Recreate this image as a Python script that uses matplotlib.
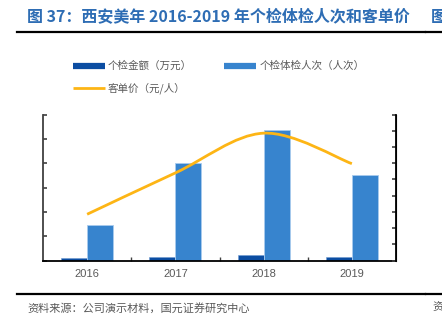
import matplotlib
matplotlib.use("Agg")
import matplotlib.pyplot as plt
from matplotlib.path import Path
from matplotlib.patches import PathPatch
from matplotlib.lines import Line2D
import numpy as np

plt.rcParams['font.family'] = ['Noto Sans CJK SC', 'DejaVu Sans']

years = ['2016', '2017', '2018', '2019']
amount = [900, 1550, 2400, 1550]          # 个检金额（万元）
visits = [14600, 40000, 53500, 35000]     # 个检体检人次（人次）
price = [285, 540, 785, 597]              # 客单价（元/人）

title = '图 37：西安美年 2016-2019 年个检体检人次和客单价'
source = '资料来源：公司演示材料，国元证券研究中心'

W, H = 442, 323
fig = plt.figure(figsize=(W / 100, H / 100), dpi=100)

def fx(px):
    return px / W

def fy(py):
    return 1 - py / H

ax = fig.add_axes([fx(43), fy(260.5), fx(396) - fx(43), fy(114.5) - fy(260.5)])
ax2 = ax.twinx()

x = np.arange(len(years))
bw = 0.295
c_dark = '#0B4DA2'
c_light = '#3784CE'
c_line = '#FDB515'
ax.bar(x - bw / 2, amount, bw, color=c_dark, edgecolor='#6F9BD0', linewidth=0.4, zorder=2)
ax.bar(x + bw / 2, visits, bw, color=c_light, edgecolor='#A9CBEE', linewidth=0.6, zorder=2)

ax.set_xlim(-0.5, 3.5)
ax.set_ylim(0, 60000)
ax.set_yticks(np.arange(0, 60001, 10000))
ax2.set_ylim(0, 900)
ax2.set_yticks(np.arange(0, 901, 100))

# smooth line (Catmull-Rom style bezier through data points)
px = list(x.astype(float))
py = list(price)
verts = [(px[0], py[0])]
codes = [Path.MOVETO]
t = 1 / 6
for i in range(len(px) - 1):
    p0 = (px[i - 1], py[i - 1]) if i > 0 else (px[i], py[i])
    p1 = (px[i], py[i])
    p2 = (px[i + 1], py[i + 1])
    p3 = (px[i + 2], py[i + 2]) if i + 2 < len(px) else p2
    c1 = (p1[0] + (p2[0] - p0[0]) * t, p1[1] + (p2[1] - p0[1]) * t)
    c2 = (p2[0] - (p3[0] - p1[0]) * t, p2[1] - (p3[1] - p1[1]) * t)
    verts += [c1, c2, p2]
    codes += [Path.CURVE4] * 3
ax2.add_patch(PathPatch(Path(verts, codes), facecolor='none', edgecolor=c_line,
                        linewidth=2.0, capstyle='butt', zorder=3))

ax.set_xticks(x)
ax.set_xticklabels(years, fontsize=8, color='#595959', family='Liberation Sans')
ax.set_xticks(np.arange(-0.5, 3.6, 1.0)[1:-1], minor=True)
ax.tick_params(axis='x', which='major', length=0, pad=6)
ax.tick_params(axis='x', which='minor', direction='in', length=3, width=1, color='#404040')
ax.tick_params(axis='y', direction='in', length=3, width=1.2, color='#404040', labelleft=False)
ax2.tick_params(axis='y', direction='in', length=3, width=1.2, color='#404040', labelright=False)

for a in (ax, ax2):
    a.spines['top'].set_visible(False)
    a.patch.set_visible(False)
ax.spines['left'].set_color('#404040')
ax.spines['left'].set_linewidth(1.3)
ax.spines['bottom'].set_color('black')
ax.spines['bottom'].set_linewidth(1.3)
ax2.spines['right'].set_color('black')
ax2.spines['right'].set_linewidth(1.3)
ax2.spines['left'].set_visible(False)
ax2.spines['bottom'].set_visible(False)

# title
fig.text(fx(27), fy(17), title, fontsize=11.5, fontweight='bold', color='#2E6DB4',
         va='center', ha='left')
fig.text(fx(431), fy(17), '图', fontsize=11.5, fontweight='bold', color='#2E6DB4',
         va='center', ha='left')
fig.add_artist(Line2D([fx(17), fx(425)], [fy(31.5), fy(31.5)], color='black', lw=1.6))
fig.add_artist(Line2D([fx(426), 1], [fy(31.5), fy(31.5)], color='black', lw=1.6))

# legend
fig.add_artist(Line2D([fx(73), fx(105)], [fy(66), fy(66)], color=c_dark, lw=4.5,
                      solid_capstyle='butt'))
fig.text(fx(108), fy(66), '个检金额（万元）', fontsize=7.6, color='#595959', va='center', ha='left')
fig.add_artist(Line2D([fx(224), fx(256)], [fy(66), fy(66)], color=c_light, lw=4.5,
                      solid_capstyle='butt'))
fig.text(fx(260), fy(66), '个检体检人次（人次）', fontsize=7.6, color='#595959', va='center', ha='left')
fig.add_artist(Line2D([fx(73), fx(105)], [fy(88), fy(88)], color=c_line, lw=2,
                      solid_capstyle='butt'))
fig.text(fx(108), fy(88), '客单价（元/人）', fontsize=7.6, color='#595959', va='center', ha='left')

# footer
fig.add_artist(Line2D([fx(17), fx(425)], [fy(294), fy(294)], color='black', lw=1.6))
fig.add_artist(Line2D([fx(426), 1], [fy(294), fy(294)], color='black', lw=1.6))
fig.text(fx(27), fy(308), source, fontsize=8, color='#595959', va='center', ha='left')
fig.text(fx(432), fy(308), '资', fontsize=8, color='#595959', va='center', ha='left')

fig.savefig('out.png', dpi=100)
